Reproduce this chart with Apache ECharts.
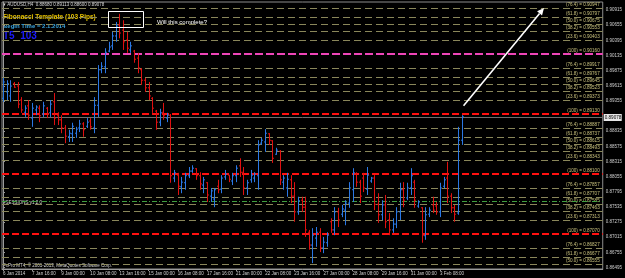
<!DOCTYPE html>
<html><head><meta charset="utf-8">
<script src="https://cdn.jsdelivr.net/npm/echarts@6/dist/echarts.min.js"></script>
<style>html,body{margin:0;padding:0;background:#000;}#c{width:625px;height:278px;}</style>
</head><body><div id="c"></div>
<script>
// ---- data (AUDUSD H4, 6 Jan 2014 - 4 Feb 2014) ----
const timeLabels = ['6 Jan 2014','7 Jan 16:00','9 Jan 00:00','10 Jan 08:00','13 Jan 16:00','15 Jan 00:00','16 Jan 08:00','17 Jan 16:00','21 Jan 00:00','22 Jan 08:00','23 Jan 16:00','27 Jan 00:00','28 Jan 08:00','29 Jan 16:00','31 Jan 00:00','3 Feb 08:00'];
const timeLabelBars = [0,8,16,24,32,40,48,56,64,72,80,88,96,104,112,120];

const open = [
.8940,.8951,.8944,.8965,.8961,.8937,.8916,.8927,.8906,.8920,
.8923,.8913,.8923,.8915,.8934,.8910,.8903,.8889,.8874,.8879,
.8880,.8889,.8896,.8892,.8901,.8889,.8928,.8989,.8994,.9021,
.9030,.9047,.9066,.9057,.9040,.9023,.9021,.9009,.8989,.8971,
.8958,.8940,.8918,.8899,.8916,.8906,.8911,.8803,.8808,.8788,
.8795,.8807,.8815,.8819,.8807,.8791,.8795,.8772,.8767,.8789,
.8784,.8805,.8808,.8798,.8807,.8824,.8813,.8786,.8800,.8803,
.8807,.8863,.8865,.8879,.8867,.8844,.8849,.8796,.8786,.8800,
.8772,.8745,.8765,.8753,.8710,.8688,.8700,.8710,.8683,.8692,
.8728,.8714,.8745,.8741,.8748,.8760,.8783,.8810,.8796,.8803,
.8784,.8798,.8803,.8758,.8740,.8757,.8731,.8714,.8724,.8745,
.8783,.8769,.8786,.8796,.8755,.8752,.8704,.8741,.8757,.8755,
.8745,.8789,.8803,.8772,.8752,.8743,.8868];
const high = [
.8975,.8971,.8971,.8968,.8968,.8942,.8928,.8937,.8932,.8928,
.8928,.8934,.8925,.8937,.8949,.8916,.8911,.8894,.8886,.8898,
.8891,.8903,.8899,.8906,.8906,.8942,.8997,.9002,.9026,.9037,
.9054,.9071,.9085,.9074,.9054,.9037,.9023,.9018,.8992,.8975,
.8968,.8942,.8920,.8922,.8932,.8915,.8913,.8817,.8812,.8805,
.8812,.8822,.8825,.8820,.8813,.8805,.8796,.8786,.8786,.8800,
.8808,.8817,.8808,.8812,.8825,.8837,.8822,.8800,.8817,.8813,
.8868,.8872,.8887,.8880,.8868,.8855,.8851,.8808,.8812,.8808,
.8796,.8771,.8771,.8771,.8714,.8717,.8719,.8717,.8702,.8710,
.8734,.8753,.8752,.8757,.8765,.8796,.8820,.8813,.8800,.8812,
.8822,.8805,.8808,.8777,.8765,.8774,.8743,.8734,.8753,.8795,
.8796,.8795,.8820,.8800,.8765,.8753,.8753,.8753,.8771,.8762,
.8795,.8805,.8831,.8777,.8757,.8891,.8911];
const low = [
.8934,.8937,.8934,.8958,.8923,.8915,.8908,.8903,.8891,.8911,
.8899,.8908,.8906,.8908,.8894,.8894,.8880,.8863,.8865,.8865,
.8872,.8882,.8874,.8889,.8886,.8880,.8908,.8983,.8983,.9019,
.9023,.9037,.9043,.9023,.9018,.9018,.9001,.8983,.8963,.8951,
.8937,.8915,.8886,.8892,.8903,.8899,.8795,.8796,.8774,.8777,
.8783,.8803,.8812,.8800,.8783,.8777,.8762,.8762,.8753,.8777,
.8777,.8800,.8796,.8791,.8796,.8805,.8774,.8774,.8795,.8796,
.8783,.8860,.8848,.8860,.8829,.8843,.8791,.8783,.8771,.8760,
.8728,.8740,.8745,.8702,.8680,.8657,.8685,.8676,.8674,.8685,
.8709,.8705,.8719,.8736,.8722,.8752,.8762,.8788,.8760,.8779,
.8774,.8795,.8748,.8726,.8731,.8717,.8705,.8709,.8717,.8731,
.8753,.8765,.8774,.8752,.8752,.8692,.8697,.8736,.8743,.8740,
.8736,.8786,.8760,.8743,.8728,.8740,.8860];
const close = [
.8968,.8965,.8961,.8959,.8930,.8920,.8923,.8911,.8923,.8925,
.8910,.8927,.8913,.8930,.8906,.8903,.8889,.8875,.8880,.8892,
.8887,.8896,.8886,.8899,.8891,.8928,.8989,.8995,.9019,.9028,
.9047,.9064,.9052,.9037,.9026,.9030,.9007,.8992,.8971,.8958,
.8944,.8923,.8899,.8915,.8910,.8911,.8807,.8812,.8789,.8796,
.8807,.8815,.8820,.8807,.8793,.8800,.8774,.8781,.8783,.8783,
.8803,.8810,.8801,.8807,.8820,.8813,.8786,.8795,.8808,.8810,
.8860,.8868,.8880,.8868,.8837,.8851,.8800,.8803,.8801,.8772,
.8745,.8764,.8753,.8714,.8688,.8705,.8710,.8683,.8693,.8705,
.8714,.8745,.8731,.8750,.8760,.8786,.8812,.8796,.8772,.8786,
.8808,.8803,.8758,.8740,.8757,.8728,.8714,.8724,.8745,.8783,
.8765,.8786,.8807,.8765,.8762,.8705,.8740,.8748,.8748,.8745,
.8786,.8800,.8772,.8752,.8741,.8868,.8908];

const priceTicks = [0.86495,0.86755,0.87015,0.87275,0.87535,0.87795,0.88055,0.88315,0.88575,0.88835,0.89355,0.89615,0.89875,0.90135,0.90395,0.90655,0.90915];
const currentPrice = 0.89078;

// Fibonacci template levels (103 pips per band)
const fibLevels = [0.90947,0.90797,0.90675,0.90553,0.90403,0.90160,
                   0.89917,0.89767,0.89645,0.89523,0.89373,0.89130,
                   0.88887,0.88737,0.88615,0.88493,0.88343,0.88100,
                   0.87857,0.87707,0.87585,0.87463,0.87313,0.87070,
                   0.86827,0.86677,0.86555];
const fibRatios = ['76.4','61.8','50.0','38.2','23.6','100',
                   '76.4','61.8','50.0','38.2','23.6','100',
                   '76.4','61.8','50.0','38.2','23.6','100',
                   '76.4','61.8','50.0','38.2','23.6','100',
                   '76.4','61.8','50.0'];
const pivotLevel = 0.87630;

// annotation anchors (bar index, price)
const arrowLine = [126.5, 0.8927, 148.6, 0.9095];
const boxRect = [28.9, 0.9090, 38.5, 0.9062];

// ---- chart ----
const BULL = '#2a78e4', BEAR = '#e01010';
const FONT = '"Liberation Sans", Arial, sans-serif';
const bars = open.map((v, i) => [i, open[i], high[i], low[i], close[i]]);

function renderBar(params, api) {
  const i = api.value(0);
  const o = api.coord([i, api.value(1)]);
  const h = api.coord([i, api.value(2)]);
  const l = api.coord([i, api.value(3)]);
  const c = api.coord([i, api.value(4)]);
  const x = Math.round(o[0]) + 0.5;
  const col = api.value(4) >= api.value(1) ? BULL : BEAR;
  const st = {stroke: col, lineWidth: 1};
  return {type: 'group', children: [
    {type: 'line', shape: {x1: x, y1: h[1], x2: x, y2: l[1]}, style: st},
    {type: 'line', shape: {x1: x - 1.5, y1: o[1], x2: x, y2: o[1]}, style: st},
    {type: 'line', shape: {x1: x, y1: c[1], x2: x + 1.5, y2: c[1]}, style: st}
  ]};
}

// level rows: [price, kind, label]
const levelRows = fibLevels.map((v, k) => [v,
  fibRatios[k] === '100' ? (v === 0.90160 ? 'magenta' : 'red') : 'fib',
  '(' + fibRatios[k] + ') = ' + v.toFixed(5)]);
levelRows.push([pivotLevel, 'pivot', '']);
levelRows.push([currentPrice, 'price', currentPrice.toFixed(5)]);

const levelStyle = {
  fib: {stroke: '#8a875a', lineWidth: 1, lineDash: [7, 4]},
  red: {stroke: '#ff1010', lineWidth: 2, lineDash: [7, 3]},
  magenta: {stroke: '#ee45b8', lineWidth: 2, lineDash: [8, 3]},
  pivot: {stroke: '#3f9f3f', lineWidth: 1, lineDash: [5, 2, 1, 2]},
  price: {stroke: '#6e6e6e', lineWidth: 1}
};

function renderLevel(params, api) {
  const row = levelRows[params.dataIndex];
  const cs = params.coordSys;
  const p = api.coord([0, row[0]]);
  const w = levelStyle[row[1]].lineWidth;
  const y = w === 1 ? Math.round(p[1]) + 0.5 : Math.round(p[1]);
  const x0 = cs.x, x1 = cs.x + cs.width;
  const children = [{type: 'line', shape: {x1: x0, y1: y, x2: x1, y2: y}, style: Object.assign({fill: null}, levelStyle[row[1]])}];
  if (row[1] === 'price') {
    children.push({type: 'rect', shape: {x: x1 + 1, y: y - 3.5, width: 18, height: 7}, style: {fill: '#e8e8e8'}});
    children.push({type: 'text', x: x1 + 2, y: y, style: {text: row[2], fill: '#000', font: '4.6px ' + FONT, align: 'left', verticalAlign: 'middle'}});
  } else if (row[2]) {
    children.push({type: 'text', x: x1 - 3, y: y - 1, style: {text: row[2], fill: '#c8c07c', font: '4.6px ' + FONT, align: 'right', verticalAlign: 'bottom'}});
  }
  return {type: 'group', children: children};
}

function renderNote(params, api) {
  if (params.dataIndex === 0) {
    const a = api.coord([arrowLine[0], arrowLine[1]]);
    const b = api.coord([arrowLine[2], arrowLine[3]]);
    const ang = Math.atan2(b[1] - a[1], b[0] - a[0]);
    const L = 7, W = 3.2;
    const bx = b[0] - L * Math.cos(ang), by = b[1] - L * Math.sin(ang);
    const px = -Math.sin(ang) * W, py = Math.cos(ang) * W;
    return {type: 'group', children: [
      {type: 'line', shape: {x1: a[0], y1: a[1], x2: bx, y2: by}, style: {stroke: '#fff', lineWidth: 1.6}},
      {type: 'polygon', shape: {points: [[b[0], b[1]], [bx + px, by + py], [bx - px, by - py]]}, style: {fill: '#fff'}}
    ]};
  }
  const p = api.coord([boxRect[0], boxRect[1]]);
  const q = api.coord([boxRect[2], boxRect[3]]);
  return {type: 'rect', shape: {x: Math.round(p[0]) + 0.5, y: Math.round(p[1]) + 0.5, width: Math.round(q[0] - p[0]), height: Math.round(q[1] - p[1])},
    style: {fill: null, stroke: '#fff', lineWidth: 1}};
}

const chart = echarts.init(document.getElementById('c'), null, {renderer: 'canvas'});
chart.setOption({
  animation: false,
  backgroundColor: '#000',
  grid: {left: 1, right: 19, top: 2, bottom: 9, show: true, borderColor: '#8c8c8c', borderWidth: 1, backgroundColor: 'transparent'},
  xAxis: {
    type: 'value', min: -0.27, max: 164.73,
    axisLine: {show: true, lineStyle: {color: '#9a9a9a'}},
    splitLine: {show: false},
    axisTick: {show: true, customValues: timeLabelBars, length: 2, lineStyle: {color: '#9a9a9a'}},
    axisLabel: {customValues: timeLabelBars, formatter: v => timeLabels[Math.round(v / 8)] || '',
      align: 'left', color: '#d0d0d0', fontSize: 4.5, margin: 2, fontFamily: FONT}
  },
  yAxis: {
    type: 'value', position: 'right', min: 0.86469, max: 0.91053, scale: true,
    axisLine: {show: true, lineStyle: {color: '#9a9a9a'}},
    splitLine: {show: false},
    axisTick: {show: true, customValues: priceTicks, length: 2, lineStyle: {color: '#9a9a9a'}},
    axisLabel: {customValues: priceTicks, formatter: v => v.toFixed(5), color: '#d0d0d0', fontSize: 4.5, margin: 3, fontFamily: FONT}
  },
  series: [
    {type: 'custom', renderItem: renderLevel, clip: false, silent: true, z: 1,
      data: levelRows.map(r => [0, r[0]]), encode: {x: 0, y: 1}},
    {type: 'custom', renderItem: renderBar, data: bars, clip: true, z: 2,
      encode: {x: 0, y: [1, 2, 3, 4]}},
    {type: 'custom', renderItem: renderNote, clip: false, silent: true, z: 3,
      data: [[arrowLine[0], arrowLine[1]], [boxRect[0], boxRect[1]]], encode: {x: 0, y: 1}}
  ],
  graphic: [
    {type: 'text', left: 3, top: 2, style: {text: '\u25BE AUDUSD,H4  0.88680 0.89113 0.88600 0.89078', fill: '#d8d8d8', font: '4.5px ' + FONT}},
    {type: 'text', left: 3, top: 14, style: {text: 'Fibonacci Template (103 Pips)', fill: '#e8c400', font: 'bold 6.5px ' + FONT}},
    {type: 'text', left: 3, top: 23, style: {text: 'Begin Time = 2.1.2014', fill: '#3aa4de', font: 'bold 6px ' + FONT}},
    {type: 'text', left: 3, top: 31, style: {text: 'T5_103', fill: '#1c1cff', font: 'bold 10px ' + FONT}},
    {type: 'text', left: 157, top: 19, style: {text: 'Will this complete?', fill: '#ffffff', font: '6px ' + FONT}},
    {type: 'text', left: 3, top: 200, style: {text: '#SESSIONS v1.2.0', fill: '#d8d8d8', font: '4.5px ' + FONT}},
    {type: 'text', left: 3, top: 263, style: {text: 'FxPro MT4, \u00A9 2001-2013, MetaQuotes Software Corp.', fill: '#d8d8d8', font: '4.5px ' + FONT}}
  ]
});
</script>
</body></html>
